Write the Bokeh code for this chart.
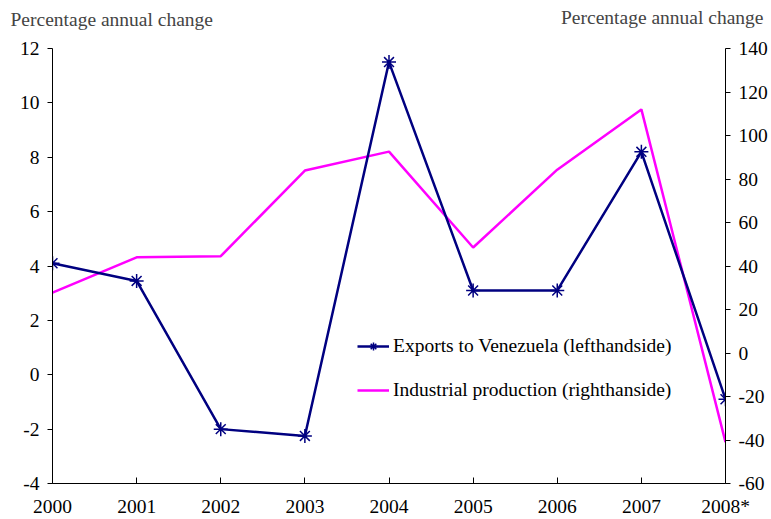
from bokeh.plotting import figure
from bokeh.models import Range1d, LinearAxis, FixedTicker, Label, Legend, LegendItem, ColumnDataSource
from bokeh.embed import file_html
from bokeh.resources import INLINE

years = ["2000", "2001", "2002", "2003", "2004", "2005", "2006", "2007", "2008*"]
exports = [4.1, 3.45, -2.0, -2.25, 11.5, 3.1, 3.1, 8.2, -0.9]
industrial = [27.8, 44.0, 44.5, 83.9, 92.6, 48.5, 84.3, 112.0, -41.0]
left_ticks = [-4, -2, 0, 2, 4, 6, 8, 10, 12]
right_ticks = [-60, -40, -20, 0, 20, 40, 60, 80, 100, 120, 140]
axis_title = "Percentage annual change"

FONT = "Liberation Serif"
FS = "19.5px"

xpos = list(range(len(years)))
src = ColumnDataSource(dict(x=xpos, exports=exports, industrial=industrial))

p = figure(width=771, height=519, output_backend="svg", toolbar_location=None,
           x_range=Range1d(0, len(years) - 1), y_range=Range1d(-4, 12),
           min_border_left=52, min_border_right=46, min_border_top=48, min_border_bottom=36)
p.extra_y_ranges = {"right": Range1d(-60, 140)}
p.outline_line_color = None
p.xgrid.visible = False
p.ygrid.visible = False
p.background_fill_color = "white"
p.border_fill_color = "white"

# x axis
p.xaxis.ticker = FixedTicker(ticks=xpos)
p.xaxis.major_label_overrides = {i: y for i, y in enumerate(years)}
p.xaxis.major_tick_in = 6
p.xaxis.major_tick_out = 0
p.xaxis.minor_tick_line_color = None
p.xaxis.major_label_standoff = 12

# left axis
p.yaxis.ticker = FixedTicker(ticks=left_ticks)
p.yaxis.major_label_overrides = {t: str(t) for t in left_ticks}
p.yaxis.major_tick_in = 0
p.yaxis.major_tick_out = 5
p.yaxis.minor_tick_line_color = None
p.yaxis.major_label_standoff = 8

ra = LinearAxis(y_range_name="right", ticker=FixedTicker(ticks=right_ticks))
ra.major_label_overrides = {t: str(t) for t in right_ticks}
ra.major_tick_in = 0
ra.major_tick_out = 5
ra.minor_tick_line_color = None
ra.major_label_standoff = 8
p.add_layout(ra, "right")

for ax in [p.xaxis[0], p.yaxis[0], ra]:
    ax.axis_line_color = "black"
    ax.axis_line_width = 1
    ax.major_tick_line_color = "black"
    ax.major_label_text_font = FONT
    ax.major_label_text_font_size = FS
    ax.major_label_text_color = "black"

ind_line = p.line("x", "industrial", source=src, y_range_name="right",
                  line_color="#FF00FF", line_width=2.5)
exp_line = p.line("x", "exports", source=src, line_color="#000080", line_width=2.5)
exp_mark = p.scatter("x", "exports", source=src, marker="asterisk", size=14,
                     line_color="#000080", line_width=1.5)

legend = Legend(items=[
    LegendItem(label="Exports to Venezuela (lefthandside)", renderers=[exp_line, exp_mark]),
    LegendItem(label="Industrial production (righthanside)", renderers=[ind_line]),
], location=(305, 82))
legend.border_line_color = None
legend.background_fill_alpha = 0
legend.label_text_font = FONT
legend.label_text_font_size = FS
legend.label_text_color = "black"
legend.glyph_width = 32
legend.label_height = 20
legend.spacing = 22
legend.label_standoff = 4
p.add_layout(legend, "center")

p.add_layout(Label(x=-42, y=29.5, x_units="screen", y_units="screen", text=axis_title,
                   text_font=FONT, text_font_size=FS, text_align="left",
                   text_baseline="alphabetic"), "above")
p.add_layout(Label(x=711, y=10, x_units="screen", y_units="screen", text=axis_title,
                   text_font=FONT, text_font_size=FS, text_align="right",
                   text_baseline="alphabetic"), "above")

open("out.html", "w").write(file_html(p, INLINE))
